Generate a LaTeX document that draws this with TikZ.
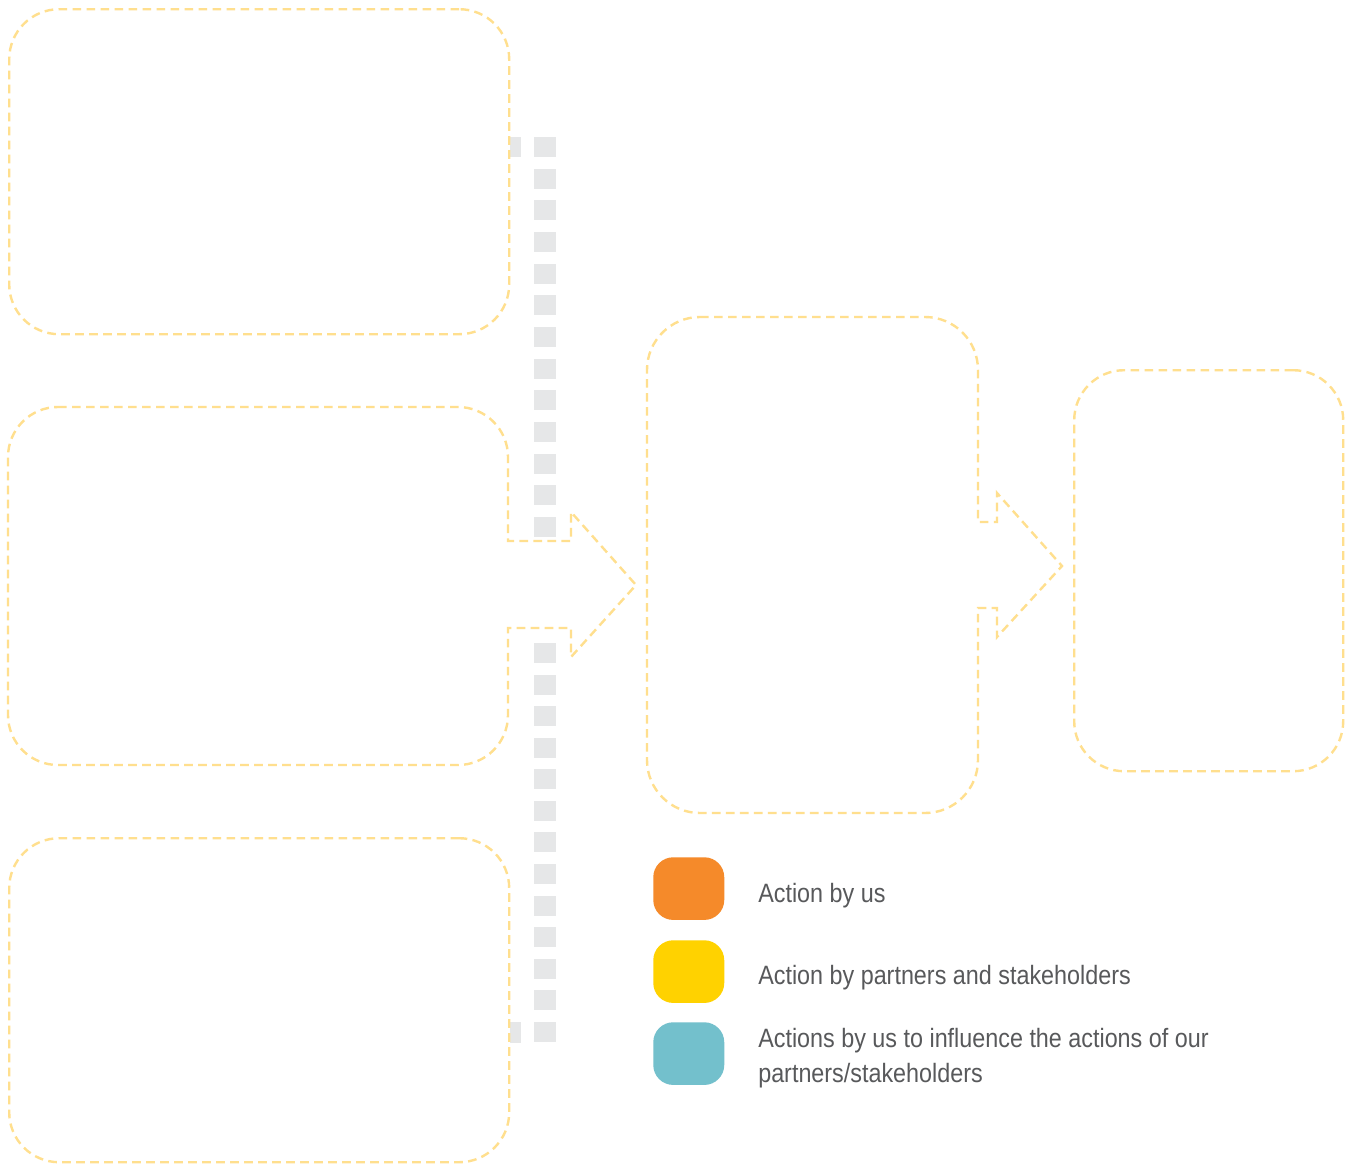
\documentclass[tikz,border=0pt]{standalone}
\usepackage{fontspec}
\setmainfont{Liberation Sans}[FakeStretch=0.88]
\definecolor{boxline}{HTML}{FFDF8E}
\definecolor{barcol}{HTML}{E6E7E8}
\definecolor{legorange}{HTML}{F58A2A}
\definecolor{legyellow}{HTML}{FFD200}
\definecolor{legteal}{HTML}{73C0CC}
\definecolor{txtcol}{HTML}{58595B}
\begin{document}
\begin{tikzpicture}[x=0.75pt,y=-0.75pt,
  dashbox/.style={draw=boxline,line width=1.8pt,dash pattern=on 6.5pt off 4pt,fill=white},
  plainbox/.style={dashbox,rectangle,rounded corners=37.5pt,inner sep=0pt,anchor=north west},
  barsq/.style={fill=barcol,draw=none},
  swatch/.style={rectangle,rounded corners=15pt,minimum width=53.25pt,minimum height=47pt,inner sep=0pt,anchor=north west,draw=none},
  legtext/.style={anchor=base west,text=txtcol,font=\fontsize{19.9pt}{26.25pt}\selectfont,inner sep=0pt,align=left}]
\useasboundingbox[fill=white] (0,0) rectangle (1356,1164);
% grey dotted bar
\foreach \i in {0,...,12} {
  \fill[barsq] (534,{137+31.67*\i}) rectangle (556,{157+31.67*\i});
}
\foreach \i in {0,...,12} {
  \fill[barsq] (534,{643+31.58*\i}) rectangle (556,{663+31.58*\i});
}
\fill[barsq] (510,137) rectangle (521,157);
\fill[barsq] (510,1022) rectangle (521,1043);
% plain boxes
\node[plainbox,minimum width=375pt,minimum height=243.75pt] (b1) at (8,8) {};
\node[plainbox,minimum width=375pt,minimum height=243pt] (b3) at (8,837) {};
\node[plainbox,minimum width=201.75pt,minimum height=300.75pt] (b5) at (1073,369) {};
% box 2 with arrow
\coordinate (a2tip) at (636,585);
\path[dashbox] (58,407) -- (458,407) .. controls (485.6,407) and (508,429.4) .. (508,457)
  -- (508,541) -- (571,541) -- (571,512) -- (a2tip) -- (571,657) -- (571,628) -- (508,628)
  -- (508,715) .. controls (508,742.6) and (485.6,765) .. (458,765)
  -- (58,765) .. controls (30.4,765) and (8,742.6) .. (8,715)
  -- (8,457) .. controls (8,429.4) and (30.4,407) .. (58,407) -- cycle;
% box 4 with arrow
\coordinate (a4tip) at (1062,566);
\path[dashbox] (700,317) -- (925,317) .. controls (954.3,317) and (978,340.7) .. (978,370)
  -- (978,522) -- (997,522) -- (997,493) -- (a4tip) -- (997,637) -- (997,608) -- (978,608)
  -- (978,760) .. controls (978,789.3) and (954.3,813) .. (925,813)
  -- (700,813) .. controls (670.7,813) and (647,789.3) .. (647,760)
  -- (647,370) .. controls (647,340.7) and (670.7,317) .. (700,317) -- cycle;
% legend
\node[swatch,fill=legorange] (s1) at (653,857) {};
\node[swatch,fill=legyellow] (s2) at (653,940) {};
\node[swatch,fill=legteal] (s3) at (653,1022) {};
\node[legtext] (t1) at (758,902) {Action by us};
\node[legtext] (t2) at (758,984) {Action by partners and stakeholders};
\node[legtext] (t3) at (758,1082) {Actions by us to influence the actions of our\\partners/stakeholders};
\end{tikzpicture}
\end{document}
